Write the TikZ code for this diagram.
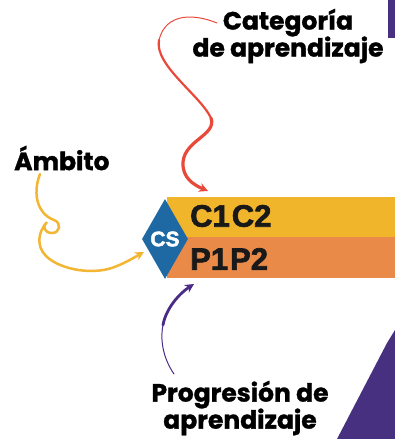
\documentclass[tikz,border=0pt]{standalone}
\usepackage{fontspec}
\setmainfont{Poppins}[BoldFeatures={FakeBold=1.2}]
\newfontfamily\heavy{Liberation Sans}[BoldFeatures={FakeBold=2.2}]
\usetikzlibrary{arrows.meta,shapes.geometric}
\definecolor{bandY}{HTML}{F1B52C}
\definecolor{bandO}{HTML}{EA8A48}
\definecolor{csblue}{HTML}{1E69A4}
\definecolor{arrRed}{HTML}{E8493A}
\definecolor{arrYel}{HTML}{F2B633}
\definecolor{arrPur}{HTML}{4A2C86}
\definecolor{triPur}{HTML}{47307F}
\tikzset{
  lbl/.style={font=\bfseries\fontsize{25}{27}\selectfont, text=black, align=center, inner sep=0pt},
  code/.style={font=\heavy\bfseries\fontsize{31}{31}\selectfont, text=black!90, anchor=west, inner sep=0pt},
  curve/.style={line cap=round, -{Stealth[length=9pt,width=9pt]}},
}
\begin{document}
\begin{tikzpicture}[x=1pt,y=-1pt]
\useasboundingbox (0,0) rectangle (395,439);
% decorative shapes
\fill[triPur] (388,0) rectangle (395,38);
\fill[triPur] (387,343) -- (395,330) -- (395,439) -- (337,439) -- cycle;
% bands
\fill[bandY] (167,197) rectangle (395,237);
\fill[bandO] (167,237) rectangle (395,278);
\node[code] (c) at (190,216) {C1\kern2pt C2};
\node[code] (p) at (190,259) {P1\kern2pt P2};
% diamond
\node[diamond, fill=csblue, minimum width=46pt, minimum height=80pt, inner sep=0pt,
      font=\heavy\bfseries\fontsize{21}{21}\selectfont, text=white] (cs) at (165,239) {CS};
% labels
\node[lbl] (cat) at (288,36) {Categoría\\de aprendizaje};
\node[lbl, anchor=west] (amb) at (14,158) {Ámbito};
\node[lbl] (prog) at (240,408) {Progresión de\\aprendizaje};
% connectors
\coordinate (r0) at (217,23);
\coordinate (rt) at (208,191);
\draw[arrRed, line width=1pt, line cap=round] (r0) .. controls (195,14) and (166,12) .. (159,40);
\draw[arrRed, line width=2.2pt, line cap=round] (159,40) .. controls (154,65) and (200,95) .. (211,118);
\draw[arrRed, line width=3.2pt, curve] (211,118) .. controls (217,135) and (185,140) .. (183,162) .. controls (182,178) and (194,185) .. (rt);
\coordinate (y0) at (40,174);
\coordinate (yt) at (144,252);
\draw[arrYel, line width=2.5pt, curve] (y0) .. controls (32,195) and (38,214) .. (54,220)
   .. controls (62,223) and (60,233) .. (52,233)
   .. controls (44,233) and (42,226) .. (47,222)
   .. controls (38,232) and (36,246) .. (46,256)
   .. controls (60,270) and (95,276) .. (117,266)
   .. controls (127,262) and (135,257) .. (yt);
\coordinate (p0) at (174,374);
\coordinate (pt) at (194,284);
\draw[arrPur, line width=1pt, line cap=round] (p0) .. controls (163,358) and (160,340) .. (163,325);
\draw[arrPur, line width=2.8pt, curve] (163,325) .. controls (166,308) and (180,293) .. (pt);
\end{tikzpicture}
\end{document}
